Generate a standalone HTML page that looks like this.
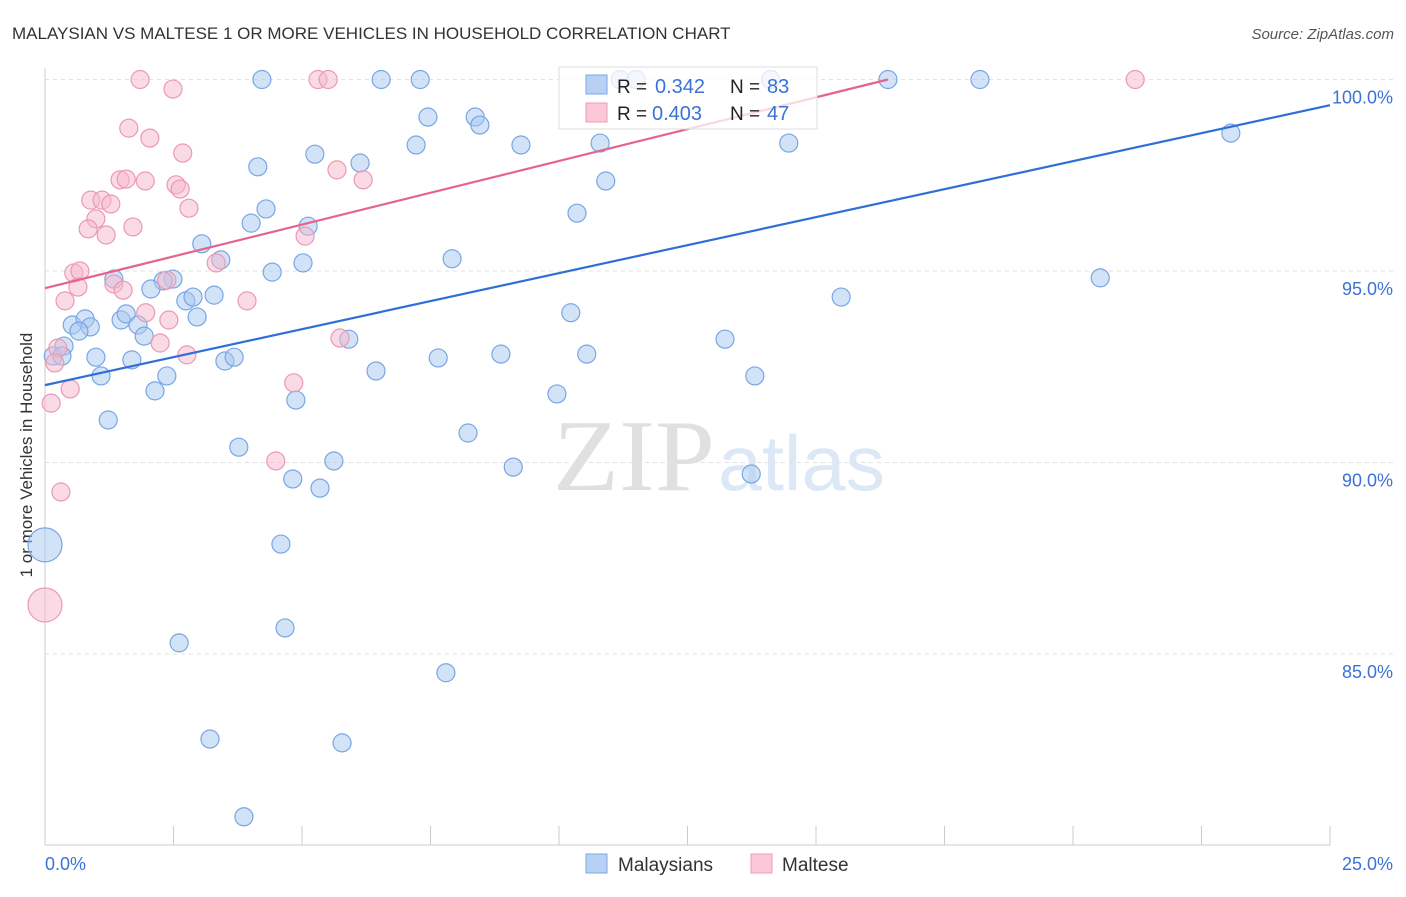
<!DOCTYPE html>
<html><head><meta charset="utf-8"><style>
body{margin:0;background:#fff;font-family:"Liberation Sans",sans-serif;}
svg text{font-family:"Liberation Sans",sans-serif;}
</style></head><body>
<svg id="chart" width="1406" height="892">
<text x="12" y="39" font-size="17" fill="#333">MALAYSIAN VS MALTESE 1 OR MORE VEHICLES IN HOUSEHOLD CORRELATION CHART</text>
<text x="1394" y="39" font-size="15" fill="#555" text-anchor="end" font-style="italic">Source: ZipAtlas.com</text>
<text x="32" y="455" font-size="17" fill="#333" text-anchor="middle" transform="rotate(-90 32 455)">1 or more Vehicles in Household</text>
<text x="553" y="490" font-size="102" fill="#e0e0e0" textLength="162" lengthAdjust="spacingAndGlyphs" style="font-family:'Liberation Serif',serif">ZIP</text>
<text x="718" y="490" font-size="78" fill="#dce8f6" textLength="167" lengthAdjust="spacingAndGlyphs">atlas</text>
<g id="grid"></g><g id="pts"></g><g id="lines"></g>
<g>
<rect x="559" y="67" width="258" height="62" fill="rgba(255,255,255,0.75)" stroke="#ddd"/>
<rect x="586" y="75" width="21" height="19" fill="#b7d0f4" stroke="#7aa7e6"/>
<rect x="586" y="103" width="21" height="19" fill="#fac8d6" stroke="#ec9cb6"/>
<text x="617" y="93" font-size="19" fill="#222">R =</text>
<text x="655" y="93" font-size="20" fill="#3a72d8">0.342</text>
<text x="730" y="93" font-size="19" fill="#222">N =</text>
<text x="767" y="93" font-size="20" fill="#3a72d8">83</text>
<text x="617" y="120" font-size="19" fill="#222">R =</text>
<text x="652" y="120" font-size="20" fill="#3a72d8">0.403</text>
<text x="730" y="120" font-size="19" fill="#222">N =</text>
<text x="767" y="120" font-size="20" fill="#3a72d8">47</text>
</g>
<g>
<rect x="586" y="854" width="21" height="19" fill="#b7d0f4" stroke="#7aa7e6"/>
<text x="618" y="871" font-size="19" fill="#333">Malaysians</text>
<rect x="751" y="854" width="21" height="19" fill="#fac8d6" stroke="#ec9cb6"/>
<text x="782" y="871" font-size="19" fill="#333">Maltese</text>
</g>
</svg>
<script>
const yTicks=[100,95,90,85];
const yTickLabels=["100.0%","95.0%","90.0%","85.0%"];
const xTickLabels=["0.0%","25.0%"];
const blueX=[4.22,6.54,7.30,11.19,11.50,14.12,16.40,18.19,7.45,8.37,8.46,7.22,9.26,10.80,14.47,23.07,5.25,6.13,4.14,10.91,4.30,10.35,4.01,5.12,3.05,3.42,7.92,5.02,4.42,1.34,2.49,2.30,2.06,2.74,2.88,3.29,15.49,20.53,2.96,1.48,1.58,0.53,0.78,0.88,0.66,1.81,1.93,10.23,5.91,13.23,0.37,0.16,0.33,0.99,1.69,3.50,3.68,7.65,8.87,10.54,6.44,1.09,2.37,13.81,2.14,9.96,4.88,1.23,3.77,8.23,5.62,9.11,4.82,5.35,13.74,4.59,0,2.61,4.67,7.80,3.21,5.78,3.87];
const blueY=[100,100,100,100,100,100,100,100,99.02,99.02,98.81,98.29,98.29,98.34,98.34,98.60,98.05,97.82,97.72,97.35,96.62,96.51,96.25,96.17,95.71,95.29,95.32,95.21,94.97,94.79,94.79,94.74,94.53,94.22,94.32,94.37,94.32,94.82,93.80,93.72,93.88,93.59,93.75,93.54,93.43,93.59,93.30,93.91,93.22,93.22,93.04,92.78,92.78,92.75,92.68,92.65,92.75,92.73,92.83,92.83,92.39,92.26,92.26,92.26,91.87,91.79,91.63,91.11,90.40,90.77,90.04,89.88,89.57,89.33,89.70,87.87,87.85,85.29,85.68,84.51,82.78,82.68,80.75];
const blueR=[9,9,9,9,9,9,9,9,9,9,9,9,9,9,9,9,9,9,9,9,9,9,9,9,9,9,9,9,9,9,9,9,9,9,9,9,9,9,9,9,9,9,9,9,9,9,9,9,9,9,9,9,9,9,9,9,9,9,9,9,9,9,9,9,9,9,9,9,9,9,9,9,9,9,9,9,17,9,9,9,9,9,9];
const pinkX=[1.85,2.49,5.31,5.51,21.21,1.63,2.04,2.68,5.68,6.19,1.46,1.58,1.95,2.55,2.63,0.89,1.11,1.28,2.80,0.99,0.84,1.71,1.19,5.06,0.56,0.68,0.64,1.34,1.52,3.33,2.37,0.39,3.93,1.96,2.41,2.24,0.25,5.74,2.76,0.19,0.12,0.49,4.84,4.49,0.31,0];
const pinkY=[100,99.75,100,100,100,98.73,98.47,98.08,97.64,97.38,97.38,97.40,97.35,97.25,97.14,96.85,96.85,96.75,96.64,96.36,96.10,96.15,95.94,95.91,94.95,95.00,94.58,94.66,94.50,95.21,94.76,94.22,94.22,93.91,93.72,93.12,92.99,93.25,92.81,92.60,91.55,91.92,92.08,90.04,89.23,86.28];
const pinkR=[9,9,9,9,9,9,9,9,9,9,9,9,9,9,9,9,9,9,9,9,9,9,9,9,9,9,9,9,9,9,9,9,9,9,9,9,9,9,9,9,9,9,9,9,9,17];
const blueLine=[0,92.02,25,99.33];
const pinkLine=[0,94.55,16.4,100];
const NS="http://www.w3.org/2000/svg";
const X=v=>45+v*51.4, Y=v=>79.5+(100-v)*38.3;
function mk(tag,attrs,parent){const e=document.createElementNS(NS,tag);for(const k in attrs)e.setAttribute(k,attrs[k]);parent.appendChild(e);return e;}
const grid=document.getElementById('grid');
yTicks.forEach((t,i)=>{
 const l=mk('line',{x1:45,x2:1393,y1:Y(t),y2:Y(t),stroke:'#e2e2e2','stroke-dasharray':'4,4'},grid);
 
 
 const tx=mk('text',{x:1393,y:Y(t)+24,'font-size':18,fill:'#3a72d8','text-anchor':'end'},grid);
 tx.textContent=yTickLabels[i];
 
 
});
const ax=mk('line',{x1:45,x2:1330,y1:845,y2:845,stroke:'#ccc'},grid);


const ay=mk('line',{x1:45,x2:45,y1:68,y2:845,stroke:'#ccc'},grid);


for(let i=0;i<=10;i++){const t=mk('line',{x1:X(i*2.5),x2:X(i*2.5),y1:826,y2:845,stroke:'#ccc'},grid);
 
 }
[[0,'start',45],[1,'end',1393]].forEach(([i,a,x])=>{const t=mk('text',{x:x,y:870,'font-size':18,fill:'#3a72d8','text-anchor':a},grid);t.textContent=xTickLabels[i];
 
 });
const pts=document.getElementById('pts');
blueX.forEach((v,i)=>{const c=mk('circle',{cx:X(v),cy:Y(blueY[i]),r:blueR[i],fill:'rgba(168,200,240,0.5)',stroke:'#78a6e4','stroke-width':1.2},pts);
 
 });
pinkX.forEach((v,i)=>{const c=mk('circle',{cx:X(v),cy:Y(pinkY[i]),r:pinkR[i],fill:'rgba(246,184,203,0.5)',stroke:'#eb99b3','stroke-width':1.2},pts);
 
 });
const lines=document.getElementById('lines');
const bl=mk('line',{x1:X(blueLine[0]),y1:Y(blueLine[1]),x2:X(blueLine[2]),y2:Y(blueLine[3]),stroke:'#2f6fd6','stroke-width':2.2},lines);


const pl=mk('line',{x1:X(pinkLine[0]),y1:Y(pinkLine[1]),x2:X(pinkLine[2]),y2:Y(pinkLine[3]),stroke:'#e5648e','stroke-width':2.2},lines);


</script>
</body></html>
